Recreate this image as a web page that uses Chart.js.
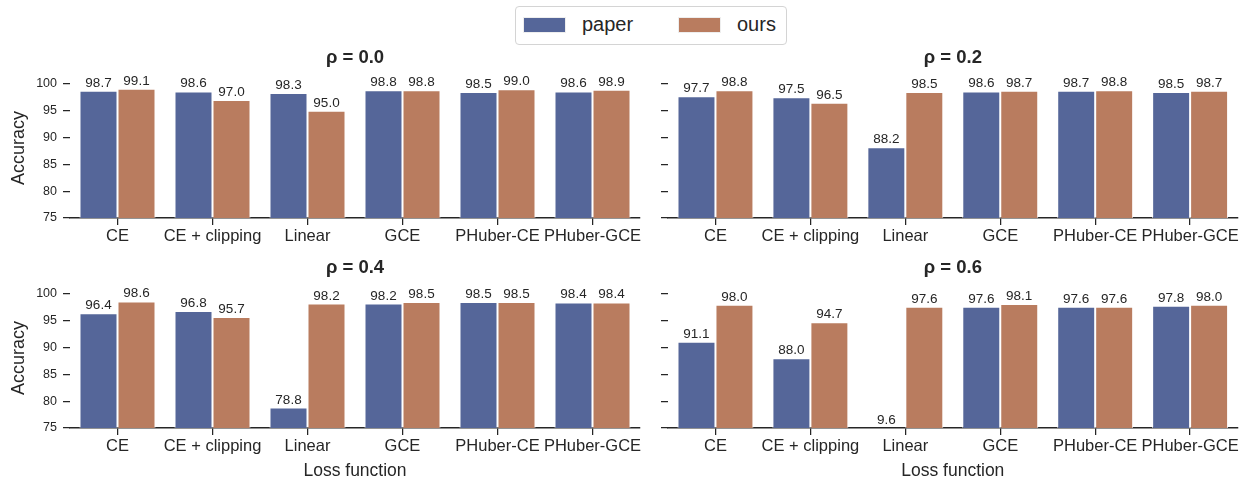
<!DOCTYPE html>
<html>
<head>
<meta charset="utf-8">
<script src="https://cdn.jsdelivr.net/npm/chart.js@4.4.1/dist/chart.umd.min.js"></script>
<style>
  body { margin: 0; width: 1241px; height: 478px; overflow: hidden; background: #fff; font-family: "Liberation Sans", Arial, sans-serif; }
  canvas { position: absolute; }
  #legend { position: absolute; left: 515px; top: 6px; width: 270px; height: 37px; border: 1px solid #d4d4d4; border-radius: 4px; }
  .sw { position: absolute; top: 10px; width: 41px; height: 14px; border: 1px solid #eee; }
  .lt { position: absolute; top: 5px; font-size: 20px; line-height: 24px; color: #262626; }
</style>
</head>
<body>
<div id="legend"></div>
<canvas id="c0" width="650" height="210" style="left:0;top:40px"></canvas>
<canvas id="c1" width="601" height="210" style="left:640px;top:40px"></canvas>
<canvas id="c2" width="650" height="236" style="left:0;top:250px"></canvas>
<canvas id="c3" width="601" height="236" style="left:640px;top:250px"></canvas>
<script>
// data
const lossFunctions = ['CE', 'CE + clipping', 'Linear', 'GCE', 'PHuber-CE', 'PHuber-GCE'];
const seriesNames = ['paper', 'ours'];
const seriesColors = ['#556699', '#b97c5f'];
const panelTitles = ['ρ = 0.0', 'ρ = 0.2', 'ρ = 0.4', 'ρ = 0.6'];
const yTicks = [75, 80, 85, 90, 95, 100];

const paper00 = [98.7, 98.6, 98.3, 98.8, 98.5, 98.6];
const ours00  = [99.1, 97.0, 95.0, 98.8, 99.0, 98.9];
const paper02 = [97.7, 97.5, 88.2, 98.6, 98.7, 98.5];
const ours02  = [98.8, 96.5, 98.5, 98.7, 98.8, 98.7];
const paper04 = [96.4, 96.8, 78.8, 98.2, 98.5, 98.4];
const ours04  = [98.6, 95.7, 98.2, 98.5, 98.5, 98.4];
const paper06 = [91.1, 88.0, 9.6, 97.6, 97.6, 97.8];
const ours06  = [98.0, 94.7, 97.6, 98.1, 97.6, 98.0];

const FONT = '"Liberation Sans", Arial, sans-serif';
const INK = '#262626';
Chart.defaults.font.family = FONT;
Chart.defaults.color = INK;

// legend (html)
const legend = document.getElementById('legend');
const swX = [7, 162], txtX = [66, 221];
seriesNames.forEach((name, i) => {
    const sw = document.createElement('div');
    sw.className = 'sw';
    sw.style.left = swX[i] + 'px';
    sw.style.background = seriesColors[i];
    legend.appendChild(sw);
    const t = document.createElement('div');
    t.className = 'lt';
    t.style.left = txtX[i] + 'px';
    t.textContent = name;
    legend.appendChild(t);
});

// numbers on top of the bars
const valueLabels = {
    id: 'valueLabels',
    afterDatasetsDraw(chart) {
        const ctx = chart.ctx;
        ctx.save();
        ctx.font = '13.5px ' + FONT;
        ctx.fillStyle = INK;
        ctx.textAlign = 'center';
        ctx.textBaseline = 'alphabetic';
        chart.data.datasets.forEach((ds, i) => {
            chart.getDatasetMeta(i).data.forEach((bar, j) => {
                // values under the axis floor get their label just above the axis
                const y = Math.min(bar.y, chart.chartArea.bottom);
                ctx.fillText(ds.data[j].toFixed(1), bar.x, y - 4);
            });
        });
        ctx.restore();
    }
};

function makePanel(id, title, paper, ours, isLeft, isBottom) {
    const ctx = document.getElementById(id).getContext('2d');
    return new Chart(ctx, {
        type: 'bar',
        data: {
            labels: lossFunctions,
            datasets: [paper, ours].map((vals, i) => ({
                label: seriesNames[i],
                data: vals,
                backgroundColor: seriesColors[i],
                borderColor: 'rgba(255,255,255,0.85)',
                borderWidth: 1,
                borderSkipped: 'start',
                categoryPercentage: 0.8,
                barPercentage: 1.0,
                clip: 0
            }))
        },
        options: {
            responsive: false,
            animation: false,
            layout: { padding: { left: 0, right: isLeft ? 10 : 2.5, top: 0, bottom: 0 } },
            scales: {
                x: {
                    grid: { offset: false, drawOnChartArea: false, drawTicks: true, tickLength: 7, color: INK, lineWidth: 1.25 },
                    border: { display: true, color: INK, width: 1.4 },
                    ticks: { font: { size: 16.5 }, color: INK, padding: 2, maxRotation: 0, autoSkip: false },
                    title: {
                        display: isBottom,
                        text: 'Loss function',
                        font: { size: 17.5 },
                        color: INK,
                        padding: { top: 0, bottom: 4 }
                    },
                    afterFit: s => { s.height = isBottom ? 58 : 32; }
                },
                y: {
                    min: 75,
                    max: 101.1,
                    afterBuildTicks: s => { s.ticks = yTicks.map(v => ({ value: v })); },
                    grid: { drawOnChartArea: false, drawTicks: true, tickLength: 7, color: INK, lineWidth: 1.25 },
                    border: { display: false },
                    ticks: { display: isLeft, font: { size: 12.5 }, color: INK, padding: 6 },
                    title: {
                        display: isLeft,
                        text: 'Accuracy',
                        font: { size: 18 },
                        color: INK,
                        padding: { top: 8, bottom: 0 }
                    },
                    afterFit: s => { s.width = isLeft ? 70 : 28; }
                }
            },
            plugins: {
                legend: { display: false },
                tooltip: { enabled: false },
                title: {
                    display: true,
                    text: title,
                    fullSize: false,
                    color: INK,
                    font: { size: 18.5, weight: 'bold' },
                    padding: { top: 7, bottom: 8.8 }
                }
            }
        },
        plugins: [valueLabels]
    });
}

makePanel('c0', panelTitles[0], paper00, ours00, true, false);
makePanel('c1', panelTitles[1], paper02, ours02, false, false);
makePanel('c2', panelTitles[2], paper04, ours04, true, true);
makePanel('c3', panelTitles[3], paper06, ours06, false, true);
</script>
</body>
</html>
